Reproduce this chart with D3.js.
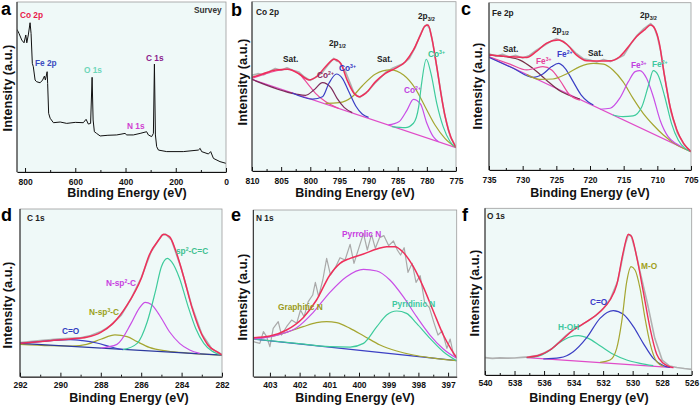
<!DOCTYPE html>
<html><head><meta charset="utf-8">
<script src="https://cdn.jsdelivr.net/npm/d3@7"></script>
<style>
body{margin:0;background:#fff}
svg{display:block}
text{font-family:"Liberation Sans",Arial,sans-serif;font-weight:bold}
</style>
</head><body>
<svg id="c" width="700" height="405"></svg>
<script>
// ---------------- DATA (binding energy eV, intensity a.u. 0-100 of panel) ----------------
const surveyTicks=[800,600,400,200,0], surveyMinor=[700,500,300,100];
const survey=[[832,83.9],[824,81.5],[813,77.6],[804,76.0],[797,80.6],[793,76.0],[787,80.6],[780,87.8],[776,81.5],[771,63.9],[767,61.9],[760,54.1],[754,53.1],[740,52.5],[730,54.1],[723,56.4],[719,54.1],[712,59.0],[710,52.1],[706,34.5],[700,31.6],[687,29.0],[660,29.4],[634,28.6],[600,29.2],[568,29.0],[557,31.0],[548,28.2],[539,28.6],[533,55.7],[529,30.6],[524,23.7],[515,22.7],[501,21.2],[470,21.6],[435,21.8],[402,22.7],[395,21.8],[369,21.8],[342,22.7],[316,23.7],[309,21.8],[296,20.8],[289,22.7],[285,63.5],[281,21.8],[276,14.9],[269,12.9],[236,12.0],[170,12.0],[110,12.9],[103,13.9],[97,12.0],[70,10.6],[61,12.0],[50,8.0],[24,6.1],[0,5.1]];

const coTicks=[810,805,800,795,790,785,780,775], coMinor=[807.5,802.5,797.5,792.5,787.5,782.5,777.5];
const coBase=[[810,54.1],[775,13.8]];
const coSat1=[[810,54.7],[807.0,58.1],[803.9,60.1],[801.9,57.3],[800.5,51.8],[799.1,45.9],[797.4,41.0],[795.1,36.9]];
const coCo2a=[[810,54.1],[802.5,45.5],[800.8,44.7],[799.4,47.8],[797.9,52.2],[796.5,49.4],[795.4,42.9],[794.2,37.6],[792.8,34.5]];
const coCo3a=[[803.1,46.1],[799.6,42.5],[797.9,43.9],[796.8,51.8],[795.5,57.3],[794.5,54.7],[793.4,46.9],[792.2,38.4],[791.1,33.7],[790.0,31.7]];
const coSat2=[[797.4,40.0],[795.1,40.4],[792.8,43.9],[791.1,50.2],[788.8,57.3],[786.3,59.7],[784.0,56.7],[782.0,48.8],[780.3,38.0],[778.6,27.2],[776.9,19.3],[775,13.8]];
const coCo2b=[[786.6,27.2],[784.8,29.1],[783.4,36.0],[782.3,42.3],[781.1,39.6],[780.0,28.2],[778.9,20.3],[778.0,17.3]];
const coCo3b=[[786.0,26.2],[783.7,25.6],[782.3,28.2],[781.4,38.0],[780.9,51.8],[780.1,66.0],[779.3,57.7],[778.3,40.0],[777.2,26.2],[776.0,17.3],[775,13.8]];
const coEnv=[[810,55.3],[808.2,57.3],[805.9,59.7],[803.9,60.1],[801.9,57.3],[800.2,53.8],[798.8,56.1],[797.4,61.6],[795.9,66.0],[794.8,63.6],[793.7,53.8],[792.5,45.9],[791.6,43.9],[790.5,45.9],[788.8,52.8],[787.1,57.7],[785.4,60.6],[783.7,64.6],[782.3,71.5],[781.1,80.3],[780.3,85.7],[779.8,86.2],[779.2,79.4],[778.3,61.6],[777.4,41.9],[776.3,24.2],[775,13.8]];
const coRaw=[[810,56.5],[809,57.5],[808,56.8],[807,58.8],[806,60.5],[805,59.5],[804,61],[803,59.5],[802,58.5],[801,55.5],[800,53.5],[799,55.5],[798,58],[797,62.5],[796,66.5],[795.5,65],[795,64.5],[794,59],[793,50.5],[792.5,46],[792,44.5],[791.5,43.5],[791,44.8],[790,47.5],[789,51.5],[788,55],[787,58.5],[786,60.5],[785,62],[784,63.5],[783,66.5],[782,73],[781,81.5],[780.5,85],[780,86.5],[779.5,84],[779,76],[778,55],[777,34],[776,20.5],[775,14]];

const feTicks=[735,730,725,720,715,710,705], feMinor=[732.5,727.5,722.5,717.5,712.5,707.5];
const feBase=[[735,67.7],[705,11.0]];
const feSat1=[[735,68.7],[732.4,67.7],[730.4,65.7],[728.5,60.8],[726.5,53.8],[724.5,47.4],[722.5,43.8],[721.5,42.4]];
const feFe3a=[[735,67.7],[731.9,63.3],[729.4,59.8],[728.2,60.8],[727.0,61.8],[725.7,59.8],[724.5,53.8],[723.0,44.8],[721.5,41.8]];
const feFe2a=[[735,67.3],[731.4,60.8],[728.5,55.4],[727.0,57.4],[725.7,61.8],[724.7,63.7],[723.7,60.8],[722.5,52.8],[721.3,44.8],[720.3,40.8],[719.5,38.8]];
const feSat2=[[729.4,57.0],[727.5,54.2],[725.5,54.4],[723.5,57.4],[721.5,61.8],[719.5,63.7],[718.0,63.3],[716.6,59.8],[715.1,52.8],[713.6,42.8],[712.1,33.9],[710.6,26.9],[709.1,20.9],[707.1,14.9],[705,11.0]];
const feFe3b=[[718.5,36.3],[717.0,36.9],[715.6,42.8],[714.3,52.8],[713.3,58.8],[712.6,59.4],[711.6,54.8],[710.6,43.8],[709.6,29.9],[708.4,19.9],[707.1,15.5],[706.4,13.7]];
const feFe2b=[[716.6,32.9],[715.1,31.9],[713.6,32.3],[712.3,37.8],[711.3,50.8],[710.6,59.4],[709.9,56.8],[708.9,43.8],[707.9,27.9],[706.9,17.9],[705.9,12.9],[705,11.0]];
const feEnv=[[735,68.7],[731.9,67.7],[729.4,67.3],[728.0,70.7],[726.5,75.7],[724.7,77.7],[723.5,75.3],[722.0,68.7],[720.5,65.3],[718.5,65.1],[716.8,65.3],[715.6,67.7],[714.3,73.7],[713.1,79.7],[711.8,84.1],[711.0,86.7],[710.4,84.7],[709.7,75.7],[709.0,57.8],[708.1,37.8],[707.1,23.9],[706.1,15.9],[705,11.0]];
const feRaw=[[735,69.5],[734,68],[733,69.2],[732,67.5],[731,68.5],[730,67],[729,68.5],[728,71.5],[727,74],[726,76.5],[725,78.5],[724,77],[723,73.5],[722,69.5],[721,66.5],[720,65.8],[719,64.5],[718,66],[717,64.8],[716,66.5],[715,68.5],[714,75],[713,80.5],[712,84.5],[711,87.5],[710.5,85.5],[710,80],[709.5,71],[709,58],[708,35],[707,22],[706,15],[705,11]];

const cTicks=[292,290,288,286,284,282], cMinor=[291,289,287,285,283];
const cBase=[[292,19.9],[282,12.9]];
const cCO=[[292,19.9],[291.0,20.9],[290.3,21.7],[289.5,22.1],[288.9,21.5],[288.2,20.1],[287.5,17.7],[286.9,16.1]];
const cNsp3=[[292,19.3],[290.5,18.5],[289.4,18.3],[288.7,19.3],[288.0,22.3],[287.3,24.9],[286.7,23.9],[286.2,20.9],[285.6,17.5],[284.7,15.3],[283.7,14.1],[282,12.9]];
const cNsp2=[[288.0,17.1],[287.2,19.3],[286.5,31.8],[286.1,40.8],[285.8,44.3],[285.5,43.1],[285.1,36.8],[284.6,26.8],[284.1,19.9],[283.6,15.9],[283.1,13.9]];
const cCC=[[286.9,16.1],[286.2,19.9],[285.7,32.8],[285.3,50.7],[285.0,65.6],[284.7,70.6],[284.5,68.6],[284.1,58.6],[283.7,42.7],[283.3,28.8],[282.9,19.9],[282.5,15.3],[282,12.9]];
const cEnv=[[292,19.9],[290.5,21.5],[289.5,22.5],[288.7,23.5],[288.0,26.4],[287.4,31.8],[286.7,42.7],[286.0,58.6],[285.6,72.6],[285.1,82.1],[284.9,84.9],[284.6,83.5],[284.3,75.5],[283.9,59.6],[283.5,41.8],[283.1,27.8],[282.7,18.9],[282.2,14.5],[282,12.9]];
const cRaw=[[292,20.4],[291,21.6],[290,22.6],[289.5,22.9],[289,23.2],[288.5,24.5],[288,26.9],[287.5,30.6],[287,36.5],[286.5,46.5],[286,59],[285.5,74.8],[285,84],[284.8,85.1],[284.5,81.5],[284,64],[283.5,42.3],[283,25.5],[282.5,16.6],[282,13.3]];

const nTicks=[403,402,401,400,399,398,397], nMinor=[402.5,401.5,400.5,399.5,398.5,397.5];
const nBase=[[403.56,22.6],[396.71,9.6]];
const nGraph=[[403.56,23.0],[403.0,24.0],[402.44,26.6],[401.88,30.0],[401.43,32.4],[401.09,33.0],[400.75,32.4],[400.30,29.0],[399.85,24.6],[399.29,19.0],[398.73,15.4],[398.17,13.0],[397.61,11.4],[396.71,9.6]];
const nPyrr=[[403.56,22.6],[402.66,25.4],[402.10,29.4],[401.54,38.6],[400.98,50.6],[400.42,60.0],[399.85,64.4],[399.40,63.4],[398.96,58.0],[398.51,48.0],[398.06,36.0],[397.61,25.0],[397.16,16.6],[396.71,11.0]];
const nPyri=[[403.56,22.6],[402.10,20.0],[400.98,18.0],[400.30,17.8],[399.85,20.0],[399.40,30.0],[399.07,37.0],[398.73,39.4],[398.40,38.0],[398.06,32.0],[397.61,23.0],[397.16,15.0],[396.71,9.6]];
const nEnv=[[403.56,23.4],[403.0,24.4],[402.44,28.0],[401.88,35.4],[401.43,46.0],[400.98,61.0],[400.64,68.0],[400.30,71.0],[399.85,73.6],[399.40,76.6],[399.07,78.0],[398.79,78.0],[398.51,74.6],[398.17,66.0],[397.84,54.0],[397.49,39.0],[397.16,25.0],[396.88,16.0],[396.71,11.4]];
const nRaw=[[403.56,21.0],[403.34,20.0],[403.22,27.0],[403.11,24.0],[403.0,18.0],[402.89,29.0],[402.72,33.0],[402.61,25.0],[402.44,30.0],[402.27,34.0],[402.10,32.0],[401.97,40.0],[401.85,36.0],[401.71,45.0],[401.56,49.0],[401.47,56.6],[401.36,48.0],[401.22,58.0],[401.09,71.0],[400.96,61.0],[400.80,65.4],[400.64,71.4],[400.47,70.0],[400.30,79.4],[400.17,68.0],[400.01,77.0],[399.85,86.0],[399.72,76.0],[399.58,85.4],[399.45,77.0],[399.31,83.4],[399.16,84.6],[399.0,78.6],[398.84,81.4],[398.71,76.0],[398.60,73.0],[398.48,77.4],[398.35,62.6],[398.21,68.0],[398.08,56.6],[397.94,60.6],[397.79,44.6],[397.63,41.4],[397.48,32.6],[397.34,25.0],[397.20,27.4],[397.04,17.0],[396.93,22.6],[396.82,13.4],[396.71,11.0]];

const oTicks=[540,538,536,534,532,530,528,526], oMinor=[539,537,535,533,531,529,527];
const oBase=[[537.18,10.4],[527.24,4.4]];
const oHOH=[[537.18,10.4],[536.28,11.6],[535.60,14.8],[534.92,19.6],[534.24,22.8],[533.68,23.6],[533.0,22.0],[532.21,17.6],[531.31,12.4],[530.40,9.0],[529.50,7.0],[528.60,5.6]];
const oCO=[[536.05,9.6],[534.92,10.4],[534.02,14.0],[533.11,22.4],[532.21,34.0],[531.31,38.6],[530.63,36.4],[529.95,29.0],[529.28,19.0],[528.60,10.0],[527.92,5.6],[527.47,4.6]];
const oMO=[[532.21,7.6],[531.53,9.0],[531.08,16.0],[530.74,32.0],[530.40,56.0],[530.11,65.0],[529.84,63.0],[529.50,52.0],[529.16,34.0],[528.82,19.0],[528.37,8.0],[527.92,5.2]];
const oEnv=[[537.18,10.6],[536.28,12.0],[535.60,15.0],[534.92,20.0],[534.02,27.0],[533.11,32.0],[532.21,38.0],[531.53,45.0],[531.08,54.0],[530.63,74.0],[530.29,84.4],[530.07,83.0],[529.73,71.0],[529.28,50.0],[528.82,28.0],[528.37,12.4],[527.92,7.0],[527.24,4.4]];
const oRaw=[[540,10.4],[539.5,10.0],[539,10.3],[538.5,10.1],[538,10.2],[537.5,10.6],[537,10.9],[536.5,11.6],[536,13.2],[535.5,15.6],[535,19.6],[534.5,23.8],[534,27.3],[533.5,29.8],[533,32.6],[532.5,35.6],[532,39.8],[531.5,45.8],[531,56.5],[530.5,78.5],[530.3,84],[530.1,83.6],[529.8,74],[529.5,62],[529,43],[528.5,22],[528,9],[527.5,5.4],[527,4.5],[526.5,3.9],[526,3.4]];

// ---------------- DRAWING ----------------
const RED="#ef2f5a", BASEPINK="#e04cc8", GREEN="#3ecb9c", MAG="#c94ee6", OLIVE="#a5a631",
      BLUE="#3b3fc4", MAROON="#7e2c5c", PINK="#ea4a9c", BROWN="#7a3048", GRAY="#a9a9a9", NAVY="#2c3a9e";
const svg=d3.select("#c");

function rich(g,str,x,y,color,size){
  const t=g.append("text").attr("x",x).attr("y",y).attr("fill",color).attr("font-size",size);
  const re=/([\^_])\{([^}]*)\}|([^\^_]+)/g; let m, cur=0;
  while((m=re.exec(str))){
    let text, target, small=false;
    if(m[3]){text=m[3];target=0;} else {text=m[2];small=true;target=m[1]==="^"?-size*0.42:size*0.3;}
    const ts=t.append("tspan").attr("dy",target-cur).text(text);
    if(small) ts.attr("font-size",size*0.62);
    cur=target;
  }
  return t;
}

function panel(cfg){
  const [x0,x1,y0,y1]=cfg.box;
  const x=d3.scaleLinear().domain(cfg.domain).range([x0,x1]);
  const y=d3.scaleLinear().domain([0,100]).range([y1,y0]);
  const g=svg.append("g");
  const cid="clip"+cfg.letter;
  g.append("clipPath").attr("id",cid).append("rect").attr("x",x0).attr("y",y0).attr("width",x1-x0).attr("height",y1-y0);
  g.append("rect").attr("x",x0).attr("y",y0).attr("width",x1-x0).attr("height",y1-y0).attr("fill","#eff9f8");
  const cg=g.append("g").attr("clip-path",`url(#${cid})`);
  cfg.curves.forEach(c=>{
    const line=d3.line().x(d=>x(d[0])).y(d=>y(d[1])).curve(c.linear?d3.curveLinear:d3.curveMonotoneX);
    cg.append("path").datum(c.data).attr("d",line).attr("fill","none").attr("stroke",c.color)
      .attr("stroke-width",c.w||1.2).attr("stroke-linejoin","round").attr("opacity",c.op||1);
  });
  // frame
  g.append("rect").attr("x",x0).attr("y",y0).attr("width",x1-x0).attr("height",y1-y0)
    .attr("fill","none").attr("stroke","#9c9c9c").attr("stroke-width",0.8);
  g.append("line").attr("x1",x0).attr("x2",x0).attr("y1",y0).attr("y2",y1).attr("stroke","#222").attr("stroke-width",1);
  // axes
  const ax=g.append("g").attr("transform",`translate(0,${y1})`)
    .call(d3.axisBottom(x).tickValues(cfg.ticks).tickFormat(d3.format("d")).tickSizeInner(-4).tickSizeOuter(0).tickPadding(cfg.pad));
  ax.select(".domain").attr("stroke","#111").attr("stroke-width",1.1);
  ax.selectAll(".tick line").attr("stroke","#111");
  ax.selectAll("text").attr("font-family",'"Liberation Sans",Arial,sans-serif').attr("font-weight","bold")
    .attr("font-size",8.5).attr("fill","#111");
  const mx=g.append("g").attr("transform",`translate(0,${y1})`)
    .call(d3.axisBottom(x).tickValues(cfg.minor).tickFormat("").tickSizeInner(-2).tickSizeOuter(0));
  mx.select(".domain").remove();
  mx.selectAll(".tick line").attr("stroke","#111");
  // titles
  g.append("text").attr("x",cfg.xt[0]).attr("y",cfg.xt[1]).attr("text-anchor","middle")
    .attr("font-size",12.5).attr("fill","#111").text("Binding Energy (eV)");
  g.append("text").attr("transform",`translate(${cfg.yt[0]},${cfg.yt[1]}) rotate(-90)`).attr("text-anchor","middle")
    .attr("font-size",12.8).attr("fill","#111").attr("dy","0.35em").text("Intensity (a.u.)");
  g.append("text").attr("x",cfg.lp[0]).attr("y",cfg.lp[1]).attr("font-size",18).attr("fill","#000").text(cfg.letter);
  cfg.labels.forEach(l=>rich(g,l[0],l[1],l[2],l[3]||"#222",l[4]||8.3));
}

panel({letter:"a",box:[17,226,2,172],domain:[832,0],ticks:surveyTicks,minor:surveyMinor,pad:6.5,
  xt:[127,197],yt:[8,88],lp:[1,15],
  curves:[{data:survey,color:"#111",w:1,linear:true}],
  labels:[["Co 2p",20,18,"#e8194a"],["Survey",194,12.5,"#333"],["Fe 2p",35,66,"#3b4cc0"],
          ["O 1s",84,73,"#6dd6b8"],["C 1s",146,61,"#8b1a8b"],["N 1s",127,129,"#d040d0"]]});

panel({letter:"b",box:[252,456,1.7,171],domain:[810,775],ticks:coTicks,minor:coMinor,pad:6.5,
  xt:[355,197],yt:[243,82],lp:[231,16],
  curves:[{data:coRaw,color:GRAY,w:1.6,linear:true,op:0.9},{data:coBase,color:BASEPINK},
    {data:coSat1,color:PINK},{data:coSat2,color:OLIVE},{data:coCo2a,color:MAROON},{data:coCo3a,color:BLUE},
    {data:coCo2b,color:MAG},{data:coCo3b,color:GREEN},{data:coEnv,color:RED,w:1.5}],
  labels:[["Co 2p",256,14.5],["Sat.",283,62],["2p_{1/2}",329,46],["Co^{2+}",317,78,"#8a2a60"],
    ["Co^{3+}",339,71,"#3333c0"],["Sat.",377,62],["2p_{3/2}",418,19],["Co^{3+}",428,57,"#33c490"],["Co^{2+}",404,93,"#c040e0"]]});

panel({letter:"c",box:[489,691,2.7,170],domain:[735,705],ticks:feTicks,minor:feMinor,pad:6.5,
  xt:[590,197],yt:[478,86],lp:[461,15],
  curves:[{data:feRaw,color:GRAY,w:1.6,linear:true,op:0.9},{data:feBase,color:BASEPINK},
    {data:feSat1,color:BROWN},{data:feFe3a,color:PINK},{data:feFe2a,color:BLUE},{data:feSat2,color:OLIVE},
    {data:feFe3b,color:MAG},{data:feFe2b,color:GREEN},{data:feEnv,color:RED,w:1.5}],
  labels:[["Fe 2p",492,16],["2p_{1/2}",552,33],["2p_{3/2}",640,18],["Sat.",503,52],["Sat.",588,56],
    ["Fe^{3+}",536,64,"#e8409a"],["Fe^{2+}",557,57,"#3a3ac8"],["Fe^{3+}",631,68,"#c040e0"],["Fe^{2+}",652,67,"#40c8a0"]]});

panel({letter:"d",box:[20,222,209,376.7],domain:[292,282],ticks:cTicks,minor:cMinor,pad:5,
  xt:[129,401.5],yt:[8,305],lp:[1,221],
  curves:[{data:cRaw,color:GRAY,w:1.6,linear:true,op:0.9},
    {data:cNsp3,color:OLIVE},{data:cBase,color:NAVY},{data:cCO,color:BLUE},{data:cNsp2,color:MAG},{data:cCC,color:GREEN},
    {data:cEnv,color:RED,w:1.5}],
  labels:[["C 1s",27,221],["C=O",62,334,"#3040c0"],["N-sp^{3}-C",89,315,"#9aa020"],
    ["N-sp^{2}-C",106,286,"#c840e0"],["sp^{2}-C=C",176,254,"#40c090"]]});

panel({letter:"e",box:[253.3,456.7,210,376.7],domain:[403.56,396.71],ticks:nTicks,minor:nMinor,pad:5,
  xt:[355,401.5],yt:[243,297],lp:[231,221],
  curves:[{data:nRaw,color:GRAY,w:1.2,linear:true},{data:nBase,color:BLUE},
    {data:nGraph,color:OLIVE},{data:nPyri,color:GREEN},{data:nPyrr,color:MAG},{data:nEnv,color:RED,w:1.5}],
  labels:[["N 1s",256,221],["Pyrrolic N",342,237,"#c83ee0"],["Graphitic N",278,310,"#9a9a20"],["Pyridinic N",392,307,"#40c8a0"]]});

panel({letter:"f",box:[485,691.7,208.3,375],domain:[540,526],ticks:oTicks,minor:oMinor,pad:5,
  xt:[589,401.5],yt:[475,293],lp:[462,221],
  curves:[{data:oRaw,color:GRAY,w:1.6,linear:true,op:0.9},{data:oBase,color:BASEPINK},
    {data:oHOH,color:GREEN},{data:oCO,color:BLUE},{data:oMO,color:OLIVE},{data:oEnv,color:RED,w:1.4}],
  labels:[["O 1s",487,219],["M-O",641,269,"#a0a020"],["C=O",590,305,"#3a3ac8"],["H-OH",558,330,"#40c8a0"]]});
</script>
</body></html>
